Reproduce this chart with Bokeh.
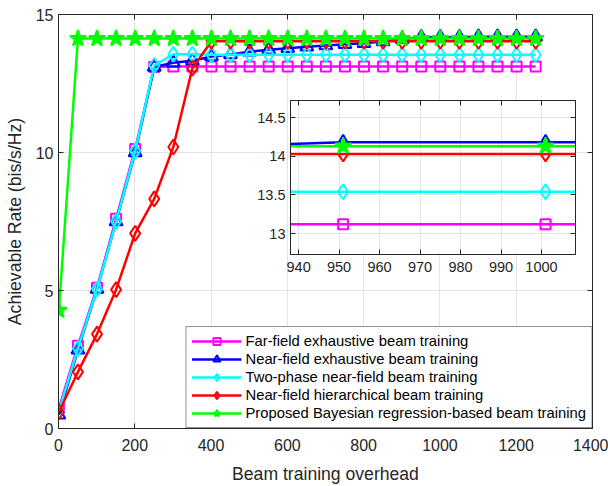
from bokeh.plotting import figure
from bokeh.models import Range1d, LinearAxis, FixedTicker
from bokeh.layouts import column
from bokeh.embed import file_html
from bokeh.resources import INLINE

overhead = [1, 51, 101, 151, 201, 251, 301, 351, 401, 451, 501, 551, 601,
            651, 701, 751, 801, 851, 901, 951, 1001, 1051, 1101, 1151, 1201, 1251]
far_field = [0.73, 3.0, 5.1, 7.6, 10.13, 13.1, 13.12, 13.12, 13.12, 13.12, 13.12,
             13.12, 13.12, 13.12, 13.12, 13.12, 13.12, 13.12, 13.12, 13.12, 13.12,
             13.12, 13.12, 13.12, 13.12, 13.12]
near_exh = [0.5, 2.85, 5.05, 7.5, 10.0, 13.1, 13.25, 13.32, 13.48, 13.55, 13.65,
            13.72, 13.78, 13.83, 13.88, 13.92, 13.96, 14.02, 14.1, 14.18, 14.18,
            14.18, 14.19, 14.19, 14.19, 14.19]
two_phase = [0.62, 2.9, 5.05, 7.5, 10.05, 13.15, 13.56, 13.56, 13.54, 13.54, 13.54,
             13.54, 13.54, 13.54, 13.54, 13.54, 13.54, 13.54, 13.54, 13.54, 13.54,
             13.54, 13.54, 13.54, 13.54, 13.54]
hierarchical = [0.6, 2.05, 3.42, 5.03, 7.07, 8.32, 10.2, 13.05, 14.03, 14.03, 14.03,
                14.03, 14.03, 14.03, 14.03, 14.03, 14.03, 14.03, 14.03, 14.03, 14.03,
                14.03, 14.03, 14.03, 14.03, 14.03]
proposed = [4.28, 14.13, 14.13, 14.13, 14.13, 14.13, 14.13, 14.13, 14.13, 14.13,
            14.13, 14.13, 14.13, 14.13, 14.13, 14.13, 14.13, 14.13, 14.13, 14.13,
            14.13, 14.13, 14.13, 14.13, 14.13, 14.13]

labels = ["Far-field exhaustive beam training",
          "Near-field exhaustive beam training",
          "Two-phase near-field beam training",
          "Near-field hierarchical beam training",
          "Proposed Bayesian regression-based beam training"]
x_ticks = [0, 200, 400, 600, 800, 1000, 1200, 1400]
y_ticks = [0, 5, 10, 15]
inset_x_ticks = [940, 950, 960, 970, 980, 990, 1000]
inset_y_ticks = [13, 13.5, 14, 14.5]

FONT = "Liberation Sans"
AX = "#262626"
GRID = "#e3e3e3"

series = [
    (far_field, "#ff00ff", "square", 10, 0.0),
    (near_exh, "#0000ff", "triangle", 13, 0.0),
    (two_phase, "#00ffff", "diamond", 15, 0.0),
    (hierarchical, "#ff0000", "diamond", 15, 0.0),
    (proposed, "#00ff00", "star", 17, 1.0),
]


def style_axes(fig, fs, xt, yt, label_standoff_x, label_standoff_y):
    for ax in fig.axis:
        ax.axis_line_color = AX
        ax.major_tick_line_color = AX
        ax.major_tick_in = 5
        ax.major_tick_out = 0
        ax.minor_tick_line_color = None
        ax.major_label_text_font = FONT
        ax.major_label_text_font_size = fs
        ax.major_label_text_color = AX
        ax.axis_label_text_font = FONT
        ax.axis_label_text_font_style = "normal"
        ax.axis_label_text_color = AX
    fig.xaxis.ticker = FixedTicker(ticks=xt)
    fig.yaxis.ticker = FixedTicker(ticks=yt)
    fig.xgrid.ticker = FixedTicker(ticks=xt)
    fig.ygrid.ticker = FixedTicker(ticks=yt)
    fig.xaxis[0].major_label_standoff = label_standoff_x
    fig.yaxis[0].major_label_standoff = label_standoff_y
    fig.xgrid.grid_line_color = GRID
    fig.ygrid.grid_line_color = GRID
    fig.outline_line_color = AX


def add_box_axes(fig, xt, yt):
    for ticks, side in ((xt, "above"), (yt, "right")):
        ax = LinearAxis(ticker=FixedTicker(ticks=ticks), major_label_text_font_size="0px",
                        major_label_text_color=None, axis_line_color=AX,
                        major_tick_line_color=AX, major_tick_in=5, major_tick_out=0,
                        minor_tick_line_color=None, major_label_standoff=0)
        fig.add_layout(ax, side)


p = figure(width=608, height=486, x_range=Range1d(0, 1400), y_range=Range1d(0, 15),
           output_backend="svg", toolbar_location=None,
           min_border_left=58, min_border_right=16, min_border_top=14, min_border_bottom=54)
p.xaxis.axis_label = "Beam training overhead"
p.yaxis.axis_label = "Achievable Rate (bis/s/Hz)"
p.xaxis.axis_label_text_font_size = "17.6px"
p.yaxis.axis_label_text_font_size = "17.6px"
p.xaxis.axis_label_standoff = 10
p.yaxis.axis_label_standoff = 8
style_axes(p, "16px", x_ticks, y_ticks, 10, 5)
add_box_axes(p, x_ticks, y_ticks)

for (vals, color, marker, size, falpha), lab in zip(series, labels):
    p.line(overhead, vals, line_color=color, line_width=2.5, legend_label=lab)
    p.scatter(overhead, vals, marker=marker, size=size, line_color=color, line_width=2,
              fill_color=color, fill_alpha=falpha, legend_label=lab)

lg = p.legend[0]
lg.location = "bottom_right"
lg.margin = 0
lg.padding = 5
lg.spacing = 0
lg.label_standoff = 4
lg.glyph_width = 50
lg.glyph_height = 18
lg.label_height = 18
lg.label_text_font = FONT
lg.label_text_font_size = "14.8px"
lg.label_text_color = "#000000"
lg.border_line_color = AX
lg.border_line_width = 1
lg.background_fill_alpha = 1.0

# inset: frame 285 x 154 placed at (290, 100); left/right borders match the main plot's
q = figure(frame_width=285, frame_height=154, x_range=Range1d(938, 1008.4),
           y_range=Range1d(12.73, 14.72),
           output_backend="svg", toolbar_location=None,
           min_border_left=58, min_border_right=16, min_border_top=30, min_border_bottom=50)
q.border_fill_alpha = 0
q.background_fill_color = "#ffffff"
style_axes(q, "14.5px", inset_x_ticks, inset_y_ticks, 7, 5)
add_box_axes(q, inset_x_ticks, inset_y_ticks)
for (vals, color, marker, size, falpha) in series:
    q.line(overhead, vals, line_color=color, line_width=2.5)
    q.scatter(overhead, vals, marker=marker, size=size, line_color=color, line_width=2,
              fill_color=color, fill_alpha=falpha)

q.styles = {"position": "absolute", "left": "232px", "top": "70px"}

root = column(p, q)
open("out.html", "w").write(file_html(root, INLINE))
